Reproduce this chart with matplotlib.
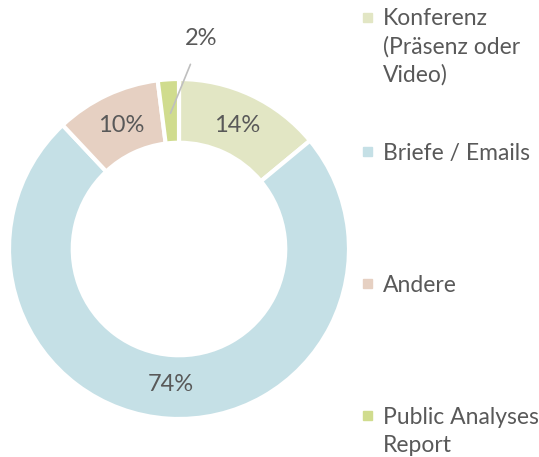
import matplotlib
matplotlib.use('Agg')
import matplotlib.pyplot as plt
from matplotlib.patches import Rectangle

plt.rcParams['font.family'] = ['Lato', 'DejaVu Sans']

# data
labels = ['Konferenz\n(Präsenz oder\nVideo)', 'Briefe / Emails', 'Andere', 'Public Analyses\nReport']
values = [14, 74, 10, 2]
colors = ['#e2e6c4', '#c5e0e6', '#e6d0c2', '#d0dc8e']
txt_color = '#595959'

W, H = 539, 457
fig = plt.figure(figsize=(W / 100, H / 100), dpi=100)
ax = fig.add_axes([9 / W, 38 / H, 340 / W, 340 / H])

wedges, texts, autotexts = ax.pie(
    values, colors=colors, startangle=90, counterclock=False,
    radius=1, autopct='%d%%', pctdistance=0.8,
    wedgeprops=dict(width=0.375, edgecolor='white', linewidth=3),
    textprops=dict(color=txt_color, fontsize=17))

# kleines Segment: Label nach außen mit Linie
small = autotexts[3]
x0, y0 = small.get_position()
small.set_visible(False)
ax.annotate('2%', xy=(x0, y0), xytext=(0.13, 1.24), ha='center', va='center',
            fontsize=17, color=txt_color,
            arrowprops=dict(arrowstyle='-', color='#bfbfbf', lw=1.2, shrinkA=10, shrinkB=0))
ax.set_xlim(-1, 1)
ax.set_ylim(-1, 1)
ax.set_aspect('equal')
ax.axis('off')

# Legende rechts (Baseline der ersten Zeile, Zeilenabstand 28 px)
leg_y = [26, 160, 292, 424]
line_px = 28
for lab, c, y in zip(labels, colors, leg_y):
    fig.patches.append(Rectangle((363 / W, 1 - (y - 4) / H), 9 / W, 9 / H,
                                 transform=fig.transFigure, color=c))
    n = lab.count('\n')
    fig.text(383 / W, 1 - (y + n * line_px) / H, lab, ha='left', va='baseline',
             fontsize=16.5, color=txt_color, linespacing=1.4)

plt.savefig('out.png', dpi=100)
plt.close()
